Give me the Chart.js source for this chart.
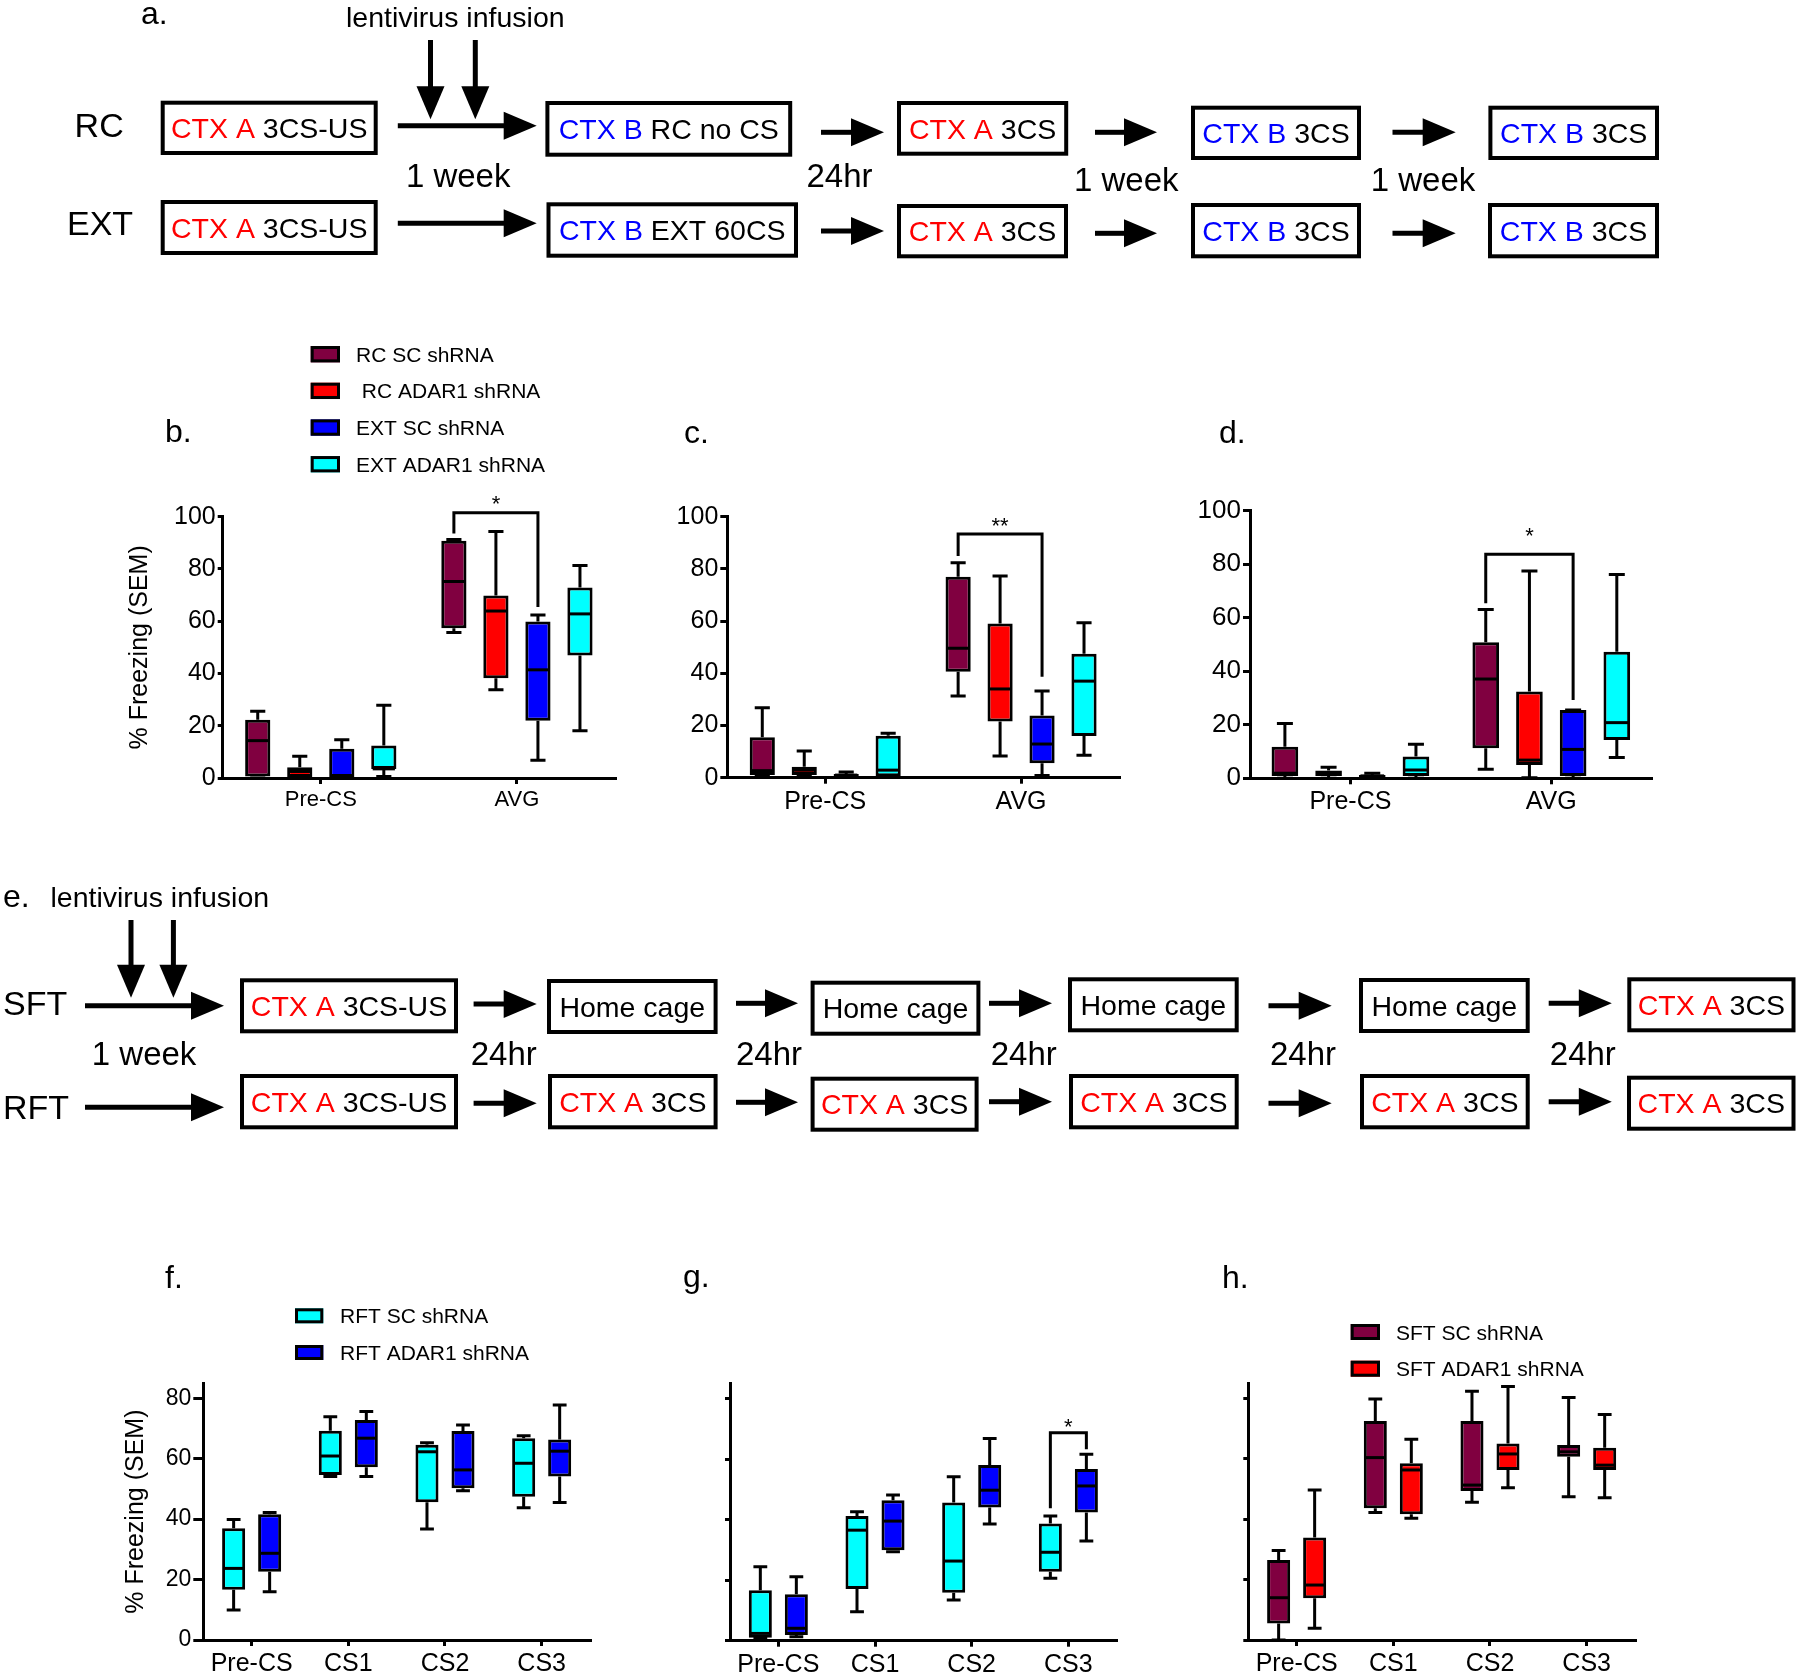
<!DOCTYPE html>
<html>
<head>
<meta charset="utf-8">
<script src="https://cdn.jsdelivr.net/npm/chart.js@4.4.1/dist/chart.umd.min.js"></script>
<style>
  html, body { margin: 0; padding: 0; background: #fff; }
  #page { position: relative; width: 1800px; height: 1678px; overflow: hidden; background: #fff; }
  canvas { position: absolute; }
</style>
</head>
<body>
<div id="page"><canvas id="schema" width="1800" height="1678" style="left:0;top:0"></canvas></div>
<script>
// ---- data ----
const freezeCats = ['Pre-CS', 'AVG'];
const trialCats = ['Pre-CS', 'CS1', 'CS2', 'CS3'];
const groupsBcd = ['RC SC shRNA', ' RC ADAR1 shRNA', 'EXT SC shRNA', 'EXT ADAR1 shRNA'];
const groupsRft = ['RFT SC shRNA', 'RFT ADAR1 shRNA'];
const groupsSft = ['SFT SC shRNA', 'SFT ADAR1 shRNA'];

// each entry: [min, q1, median, q3, max]
const bRcSc = [[0, 0.6, 14.3, 22.3, 25.5], [55.7, 57.3, 75.2, 90.8, 91.3]];
const bRcAdar = [[0, 0.4, 2.5, 4.1, 8.3], [33.8, 38.2, 63.9, 69.8, 94.3]];
const bExtSc = [[0, 0.4, 0.5, 11.2, 14.6], [6.8, 21.9, 41.4, 59.9, 62.4]];
const bExtAdar = [[0.6, 3.4, 3.5, 12.4, 27.8], [18.1, 46.9, 62.8, 72.9, 81.3]];

const cRcSc = [[1, 1, 2.7, 15.5, 26.8], [31.3, 40.6, 49.6, 77, 82.4]];
const cRcAdar = [[1, 1, 2.9, 4.2, 10.2], [8.3, 21.5, 34, 59.1, 77.3]];
const cExtSc = [[0.6, 0.6, 1, 1.4, 2.2], [0.8, 5.5, 12.9, 23.8, 33.2]];
const cExtAdar = [[0.6, 0.6, 2.9, 16.1, 17], [8.6, 16, 37, 47.5, 59.4]];

const dRcSc = [[0, 0.9, 1.9, 11.8, 20.5], [3.4, 11.2, 37.1, 50.8, 63.1]];
const dRcAdar = [[0, 0.9, 1.9, 2.9, 4.1], [0.2, 5, 6.8, 32.4, 77.5]];
const dExtSc = [[0, 0.4, 0.9, 1.2, 1.9], [0, 0.9, 10.8, 25.5, 25.5]];
const dExtAdar = [[0, 0.9, 3.1, 8.1, 12.7], [7.8, 14.3, 20.8, 47.3, 76.2]];

const fRftSc = [[9.9, 16.6, 23.7, 37.0, 39.9], [54.1, 54.6, 60.9, 69.3, 73.9], [36.7, 45.6, 62.3, 64.6, 65.3], [43.8, 47.4, 58.5, 66.8, 67.6]];
const fRftAdar = [[16, 22.6, 28.7, 41.6, 42.2], [54.1, 57.2, 66.8, 72.8, 75.6], [49.4, 50.2, 56.3, 69.2, 71.2], [45.5, 54.1, 62.5, 66.4, 77.8]];

const gRftSc = [[0.8, 1.0, 2.4, 16.7, 24.4], [9.6, 17.1, 36.5, 41.2, 42.6], [13.4, 15.8, 26.3, 45.6, 54.1], [20.6, 22.8, 29.2, 38.7, 41.2]];
const gRftAdar = [[1.3, 1.9, 4.1, 15.3, 21.1], [29.4, 29.9, 39.5, 46.4, 48.1], [38.5, 44, 49.7, 58, 66.8], [32.9, 42.3, 51.1, 56.7, 61.6]];

const hSftSc = [[0, 5.5, 14, 26.5, 29.6], [42.2, 43.6, 60.4, 72.5, 79.8], [45.6, 49.3, 51.3, 72.5, 82.4], [47.4, 60.7, 62.3, 64.6, 80.3]];
const hSftAdar = [[3.9, 13.8, 18.2, 33.9, 49.7], [40.3, 41.6, 56.3, 58.5, 66.5], [50.4, 56.3, 61.6, 65.1, 83.9], [47.1, 56.3, 57.9, 63.7, 74.7]];

// significance: [category, left dataset, right dataset, top, left end, right end, label, label value]
const bSig = [1, 0, 2, 101.5, 93.6, 65.4, '*', 107];
const cSig = [1, 0, 2, 93.4, 84.9, 38.7, '**', 98.7];
const dSig = [1, 0, 2, 83.7, 65.4, 29.3, '*', 92.8];
const gSig = [3, 0, 1, 68.7, 43.7, 63.2, '*', 72.7];

const yMaxAvg = 100;
const yMaxTrial = 85;
const yStep = 20;

const MAROON = '#800040';
const RED = '#ff0000';
const BLUE = '#0000ff';
const CYAN = '#00ffff';
const FONT = "'Liberation Sans', Arial, Helvetica, sans-serif";

Chart.defaults.font.family = FONT;
Chart.defaults.color = '#000';

const page = document.getElementById('page');

// ---- schematic (panels a and e) ----
const sc = document.getElementById('schema').getContext('2d');

function txt(s, x, y, size, color) {
  sc.font = `${size}px ${FONT}`;
  sc.fillStyle = color || '#000';
  sc.textBaseline = 'alphabetic';
  sc.fillText(s, x, y);
}

function stage(x1, y1, x2, y2, parts) {
  const size = 28.5;
  sc.lineWidth = 4;
  sc.strokeStyle = '#000';
  sc.strokeRect(x1 + 2, y1 + 2, x2 - x1 - 4, y2 - y1 - 4);
  sc.font = `${size}px ${FONT}`;
  const w = parts.reduce((a, p) => a + sc.measureText(p[0]).width, 0);
  let x = (x1 + x2) / 2 - w / 2;
  const y = (y1 + y2) / 2 + 0.358 * size;
  parts.forEach(([s, c]) => {
    sc.fillStyle = c;
    sc.fillText(s, x, y);
    x += sc.measureText(s).width;
  });
}

function arrowR(x1, x2, y) {
  const hl = 33, hh = 14;
  sc.strokeStyle = '#000';
  sc.fillStyle = '#000';
  sc.lineWidth = 5;
  sc.beginPath();
  sc.moveTo(x1, y);
  sc.lineTo(x2 - hl + 2, y);
  sc.stroke();
  sc.beginPath();
  sc.moveTo(x2, y);
  sc.lineTo(x2 - hl, y - hh);
  sc.lineTo(x2 - hl, y + hh);
  sc.closePath();
  sc.fill();
}

function arrowD(x, y1, y2) {
  const hl = 33, hh = 14;
  sc.strokeStyle = '#000';
  sc.fillStyle = '#000';
  sc.lineWidth = 5;
  sc.beginPath();
  sc.moveTo(x, y1);
  sc.lineTo(x, y2 - hl + 2);
  sc.stroke();
  sc.beginPath();
  sc.moveTo(x, y2);
  sc.lineTo(x - hh, y2 - hl);
  sc.lineTo(x + hh, y2 - hl);
  sc.closePath();
  sc.fill();
}

const ctxA = ['CTX A', RED];
const ctxB = ['CTX B', BLUE];
const blk = s => [s, '#000'];

// panel a
txt('a.', 141, 24, 32);
txt('lentivirus infusion', 346, 26.7, 28.5);
arrowD(430.5, 40, 119.3);
arrowD(475.3, 40, 119.3);
txt('RC', 74.6, 136.7, 34);
txt('EXT', 67, 235, 34);

stage(160.7, 100.7, 377.7, 155, [ctxA, blk(' 3CS-US')]);
arrowR(397.8, 536.7, 125.7);
stage(545.4, 101, 792.2, 156.7, [ctxB, blk(' RC no CS')]);
arrowR(821, 884, 132.3);
stage(897, 101, 1068.2, 155.7, [ctxA, blk(' 3CS')]);
arrowR(1095, 1157, 132.3);
stage(1191, 105.7, 1361, 160, [ctxB, blk(' 3CS')]);
arrowR(1392.5, 1455.7, 132.3);
stage(1488.4, 105.7, 1659, 160, [ctxB, blk(' 3CS')]);

txt('1 week', 405.9, 186.7, 33);
txt('24hr', 806.5, 187, 33);
txt('1 week', 1074, 190.7, 33);
txt('1 week', 1370.7, 190.7, 33);

stage(160.7, 200, 377.7, 255, [ctxA, blk(' 3CS-US')]);
arrowR(397.8, 536.7, 223.3);
stage(546.5, 202.3, 798, 257.7, [ctxB, blk(' EXT 60CS')]);
arrowR(821, 884, 231);
stage(897, 204, 1068, 258.3, [ctxA, blk(' 3CS')]);
arrowR(1095, 1157, 233.3);
stage(1191, 203, 1361, 258.3, [ctxB, blk(' 3CS')]);
arrowR(1392.5, 1455.7, 233.3);
stage(1488, 203, 1659, 258.3, [ctxB, blk(' 3CS')]);

// panel e
txt('e.', 3, 906.7, 32);
txt('lentivirus infusion', 50.5, 906.7, 28.5);
arrowD(131, 920, 997.7);
arrowD(173.4, 920, 997.7);
txt('SFT', 3, 1015, 34);
txt('RFT', 3, 1119, 34);
arrowR(85, 224, 1005.7);
arrowR(85, 224, 1107.3);

stage(240, 978.3, 458, 1033.3, [ctxA, blk(' 3CS-US')]);
arrowR(473.6, 536.7, 1004);
stage(547, 979, 717.6, 1034, [blk('Home cage')]);
arrowR(736, 798, 1003.3);
stage(810.6, 980.7, 980.4, 1035.7, [blk('Home cage')]);
arrowR(989, 1052, 1003.3);
stage(1068, 977.3, 1238.7, 1032.3, [blk('Home cage')]);
arrowR(1268.5, 1331.7, 1005.7);
stage(1359, 978, 1529.7, 1033, [blk('Home cage')]);
arrowR(1548.7, 1611.8, 1003.3);
stage(1627.3, 977.3, 1795.5, 1032.3, [ctxA, blk(' 3CS')]);

txt('1 week', 91.8, 1065, 33);
[470.7, 736, 990.7, 1270, 1549.8].forEach(x => txt('24hr', x, 1065, 33));

stage(240, 1074, 458, 1129.3, [ctxA, blk(' 3CS-US')]);
arrowR(473.6, 536.7, 1103.3);
stage(548, 1074, 717.6, 1129.3, [ctxA, blk(' 3CS')]);
arrowR(736, 798, 1102.3);
stage(810.6, 1076.7, 978.6, 1131.7, [ctxA, blk(' 3CS')]);
arrowR(989, 1052, 1101.7);
stage(1069, 1074, 1238.7, 1129.3, [ctxA, blk(' 3CS')]);
arrowR(1268.5, 1331.7, 1103.3);
stage(1360, 1074, 1529.7, 1129.3, [ctxA, blk(' 3CS')]);
arrowR(1548.7, 1611.8, 1101.7);
stage(1627, 1075.7, 1795.5, 1130.7, [ctxA, blk(' 3CS')]);

// panel letters for the charts
txt('b.', 165, 442, 32);
txt('c.', 684, 443, 32);
txt('d.', 1219, 443, 32);
txt('f.', 165, 1288, 32);
txt('g.', 683, 1287, 32);
txt('h.', 1222, 1288, 32);

// ---- box plot plugin: whiskers, medians, brackets, legend ----
const boxPlotPlugin = {
  id: 'boxPlot',
  afterDatasetsDraw(chart) {
    const ctx = chart.ctx;
    const y = chart.scales.y;
    ctx.save();
    ctx.strokeStyle = '#000';
    ctx.lineWidth = 3;
    chart.data.datasets.forEach((ds, i) => {
      chart.getDatasetMeta(i).data.forEach((bar, j) => {
        const [mn, q1, med, q3, mx] = ds.stats[j];
        const x = bar.x;
        const half = bar.width / 2;
        const cap = bar.width * 0.3;
        const pMin = y.getPixelForValue(mn), pQ1 = y.getPixelForValue(q1);
        const pQ3 = y.getPixelForValue(q3), pMax = y.getPixelForValue(mx);
        const pMed = y.getPixelForValue(med);
        ctx.beginPath();
        ctx.moveTo(x, pQ3); ctx.lineTo(x, pMax);
        ctx.moveTo(x - cap, pMax); ctx.lineTo(x + cap, pMax);
        ctx.moveTo(x, pQ1); ctx.lineTo(x, pMin);
        ctx.moveTo(x - cap, pMin); ctx.lineTo(x + cap, pMin);
        ctx.stroke();
        ctx.beginPath();
        ctx.moveTo(x - half + 1.5, pMed); ctx.lineTo(x + half - 1.5, pMed);
        ctx.stroke();
      });
    });
    ctx.restore();
  },
  afterDraw(chart, args, opts) {
    const ctx = chart.ctx;
    const y = chart.scales.y;
    ctx.save();
    ctx.strokeStyle = '#000';
    ctx.fillStyle = '#000';
    ctx.lineWidth = 3;
    (opts.brackets || []).forEach(([cat, dl, dr, top, endL, endR, label, labelVal]) => {
      const xl = chart.getDatasetMeta(dl).data[cat].x;
      const xr = chart.getDatasetMeta(dr).data[cat].x;
      ctx.beginPath();
      ctx.moveTo(xl, y.getPixelForValue(endL));
      ctx.lineTo(xl, y.getPixelForValue(top));
      ctx.lineTo(xr, y.getPixelForValue(top));
      ctx.lineTo(xr, y.getPixelForValue(endR));
      ctx.stroke();
      ctx.font = `22px ${FONT}`;
      ctx.textAlign = 'center';
      ctx.textBaseline = 'alphabetic';
      ctx.fillText(label, (xl + xr) / 2, y.getPixelForValue(labelVal) + 0.59 * 22);
    });
    const lg = opts.legend;
    if (lg) {
      chart.data.datasets.forEach((ds, i) => {
        const cy = lg.y + i * lg.gap;
        ctx.fillStyle = ds.backgroundColor;
        ctx.fillRect(lg.x, cy - lg.h / 2, lg.w, lg.h);
        ctx.strokeStyle = '#000';
        ctx.lineWidth = 3;
        ctx.strokeRect(lg.x + 1.5, cy - lg.h / 2 + 1.5, lg.w - 3, lg.h - 3);
        ctx.fillStyle = '#000';
        ctx.font = `21px ${FONT}`;
        ctx.textAlign = 'left';
        ctx.textBaseline = 'alphabetic';
        ctx.fillText(ds.label, lg.textX, cy + 0.358 * 21);
      });
    }
    ctx.restore();
  }
};

function boxChart(frame, area, cfg) {
  const cv = document.createElement('canvas');
  cv.width = frame.w;
  cv.height = frame.h;
  cv.style.left = frame.x + 'px';
  cv.style.top = frame.y + 'px';
  page.appendChild(cv);

  const titleSize = 25;
  const YW = cfg.yTitle ? area.left - (cfg.yTitleX - titleSize * 1.2 / 2) : 60;
  const XH = frame.y + frame.h - area.bottom - 2;
  const padding = {
    left: area.left - frame.x - YW,
    top: area.top - frame.y,
    right: frame.x + frame.w - area.right,
    bottom: 2,
  };

  const legend = cfg.legend ? {
    x: cfg.legend.x - frame.x,
    y: cfg.legend.y - frame.y,
    gap: cfg.legend.gap,
    w: cfg.legend.w,
    h: cfg.legend.h,
    textX: cfg.legend.textX - frame.x,
  } : null;

  return new Chart(cv, {
    type: 'bar',
    data: {
      labels: cfg.labels,
      datasets: cfg.series.map(s => ({
        label: s.label,
        data: s.stats.map(v => [v[1], v[3]]),
        stats: s.stats,
        backgroundColor: s.color,
        borderColor: '#000',
        borderWidth: 3,
        borderSkipped: false,
        categoryPercentage: cfg.catPct,
        barPercentage: cfg.barPct,
      })),
    },
    options: {
      responsive: false,
      animation: false,
      devicePixelRatio: 1,
      layout: { padding },
      plugins: {
        legend: { display: false },
        tooltip: { enabled: false },
        boxPlot: { brackets: cfg.brackets || [], legend },
      },
      scales: {
        x: {
          offset: true,
          grid: { offset: false, drawOnChartArea: false, drawTicks: true, tickLength: 6, color: '#000', lineWidth: 3 },
          border: { display: true, color: '#000', width: 3 },
          ticks: { color: '#000', font: { size: cfg.xFont }, padding: 3, maxRotation: 0 },
          afterFit: s => { s.height = XH; },
        },
        y: {
          min: 0,
          max: cfg.yMax,
          grid: { drawOnChartArea: false, drawTicks: true, tickLength: cfg.yTick, color: '#000', lineWidth: 3 },
          border: { display: true, color: '#000', width: 3 },
          ticks: {
            stepSize: yStep,
            includeBounds: false,
            color: '#000',
            font: { size: cfg.yFont },
            padding: 2,
            callback: v => (cfg.yLabels ? v : ''),
          },
          title: cfg.yTitle ? { display: true, text: cfg.yTitle, font: { size: titleSize }, padding: 0, color: '#000' } : { display: false },
          afterFit: s => { s.width = YW; },
        },
      },
    },
    plugins: [boxPlotPlugin],
  });
}

const fourColors = [MAROON, RED, BLUE, CYAN];

// b
boxChart({ x: 100, y: 330, w: 530, h: 500 }, { left: 222.7, top: 516.7, right: 615, bottom: 778 }, {
  labels: freezeCats,
  series: [bRcSc, bRcAdar, bExtSc, bExtAdar].map((s, i) => ({ label: groupsBcd[i], stats: s, color: fourColors[i] })),
  catPct: 0.857, barPct: 0.6, yMax: yMaxAvg, yLabels: true, yTick: 5, yFont: 25, xFont: 22,
  yTitle: '% Freezing (SEM)', yTitleX: 140,
  brackets: [bSig],
  legend: { x: 310.7, y: 354.2, gap: 36.67, w: 29.3, h: 16.3, textX: 356 },
});

// c
boxChart({ x: 640, y: 470, w: 490, h: 360 }, { left: 727.3, top: 516.7, right: 1119, bottom: 777.7 }, {
  labels: freezeCats,
  series: [cRcSc, cRcAdar, cExtSc, cExtAdar].map((s, i) => ({ label: groupsBcd[i], stats: s, color: fourColors[i] })),
  catPct: 0.857, barPct: 0.6, yMax: yMaxAvg, yLabels: true, yTick: 7, yFont: 25, xFont: 25,
  brackets: [cSig],
});

// d
boxChart({ x: 1160, y: 470, w: 510, h: 360 }, { left: 1250, top: 510.7, right: 1651.7, bottom: 778.3 }, {
  labels: freezeCats,
  series: [dRcSc, dRcAdar, dExtSc, dExtAdar].map((s, i) => ({ label: groupsBcd[i], stats: s, color: fourColors[i] })),
  catPct: 0.87, barPct: 0.61, yMax: yMaxAvg, yLabels: true, yTick: 7, yFont: 26, xFont: 25,
  brackets: [dSig],
});

// f
boxChart({ x: 100, y: 1250, w: 510, h: 428 }, { left: 203.3, top: 1383.2, right: 590, bottom: 1640 }, {
  labels: trialCats,
  series: [fRftSc, fRftAdar].map((s, i) => ({ label: groupsRft[i], stats: s, color: [CYAN, BLUE][i] })),
  catPct: 0.745, barPct: 0.64, yMax: yMaxTrial, yLabels: true, yTick: 10, yFont: 23, xFont: 25,
  yTitle: '% Freezing (SEM)', yTitleX: 136,
  legend: { x: 295, y: 1315.8, gap: 36.7, w: 28.3, h: 15, textX: 340 },
});

// g
boxChart({ x: 640, y: 1250, w: 500, h: 428 }, { left: 730, top: 1383.3, right: 1116.7, bottom: 1640.7 }, {
  labels: trialCats,
  series: [gRftSc, gRftAdar].map((s, i) => ({ label: groupsRft[i], stats: s, color: [CYAN, BLUE][i] })),
  catPct: 0.745, barPct: 0.64, yMax: yMaxTrial, yLabels: false, yTick: 5, yFont: 23, xFont: 25,
  brackets: [gSig],
});

// h
boxChart({ x: 1160, y: 1250, w: 500, h: 428 }, { left: 1248.3, top: 1383.3, right: 1635, bottom: 1640 }, {
  labels: trialCats,
  series: [hSftSc, hSftAdar].map((s, i) => ({ label: groupsSft[i], stats: s, color: [MAROON, RED][i] })),
  catPct: 0.745, barPct: 0.64, yMax: yMaxTrial, yLabels: false, yTick: 5, yFont: 23, xFont: 25,
  legend: { x: 1350.7, y: 1332, gap: 36.7, w: 29.3, h: 16, textX: 1396 },
});
</script>
</body>
</html>
